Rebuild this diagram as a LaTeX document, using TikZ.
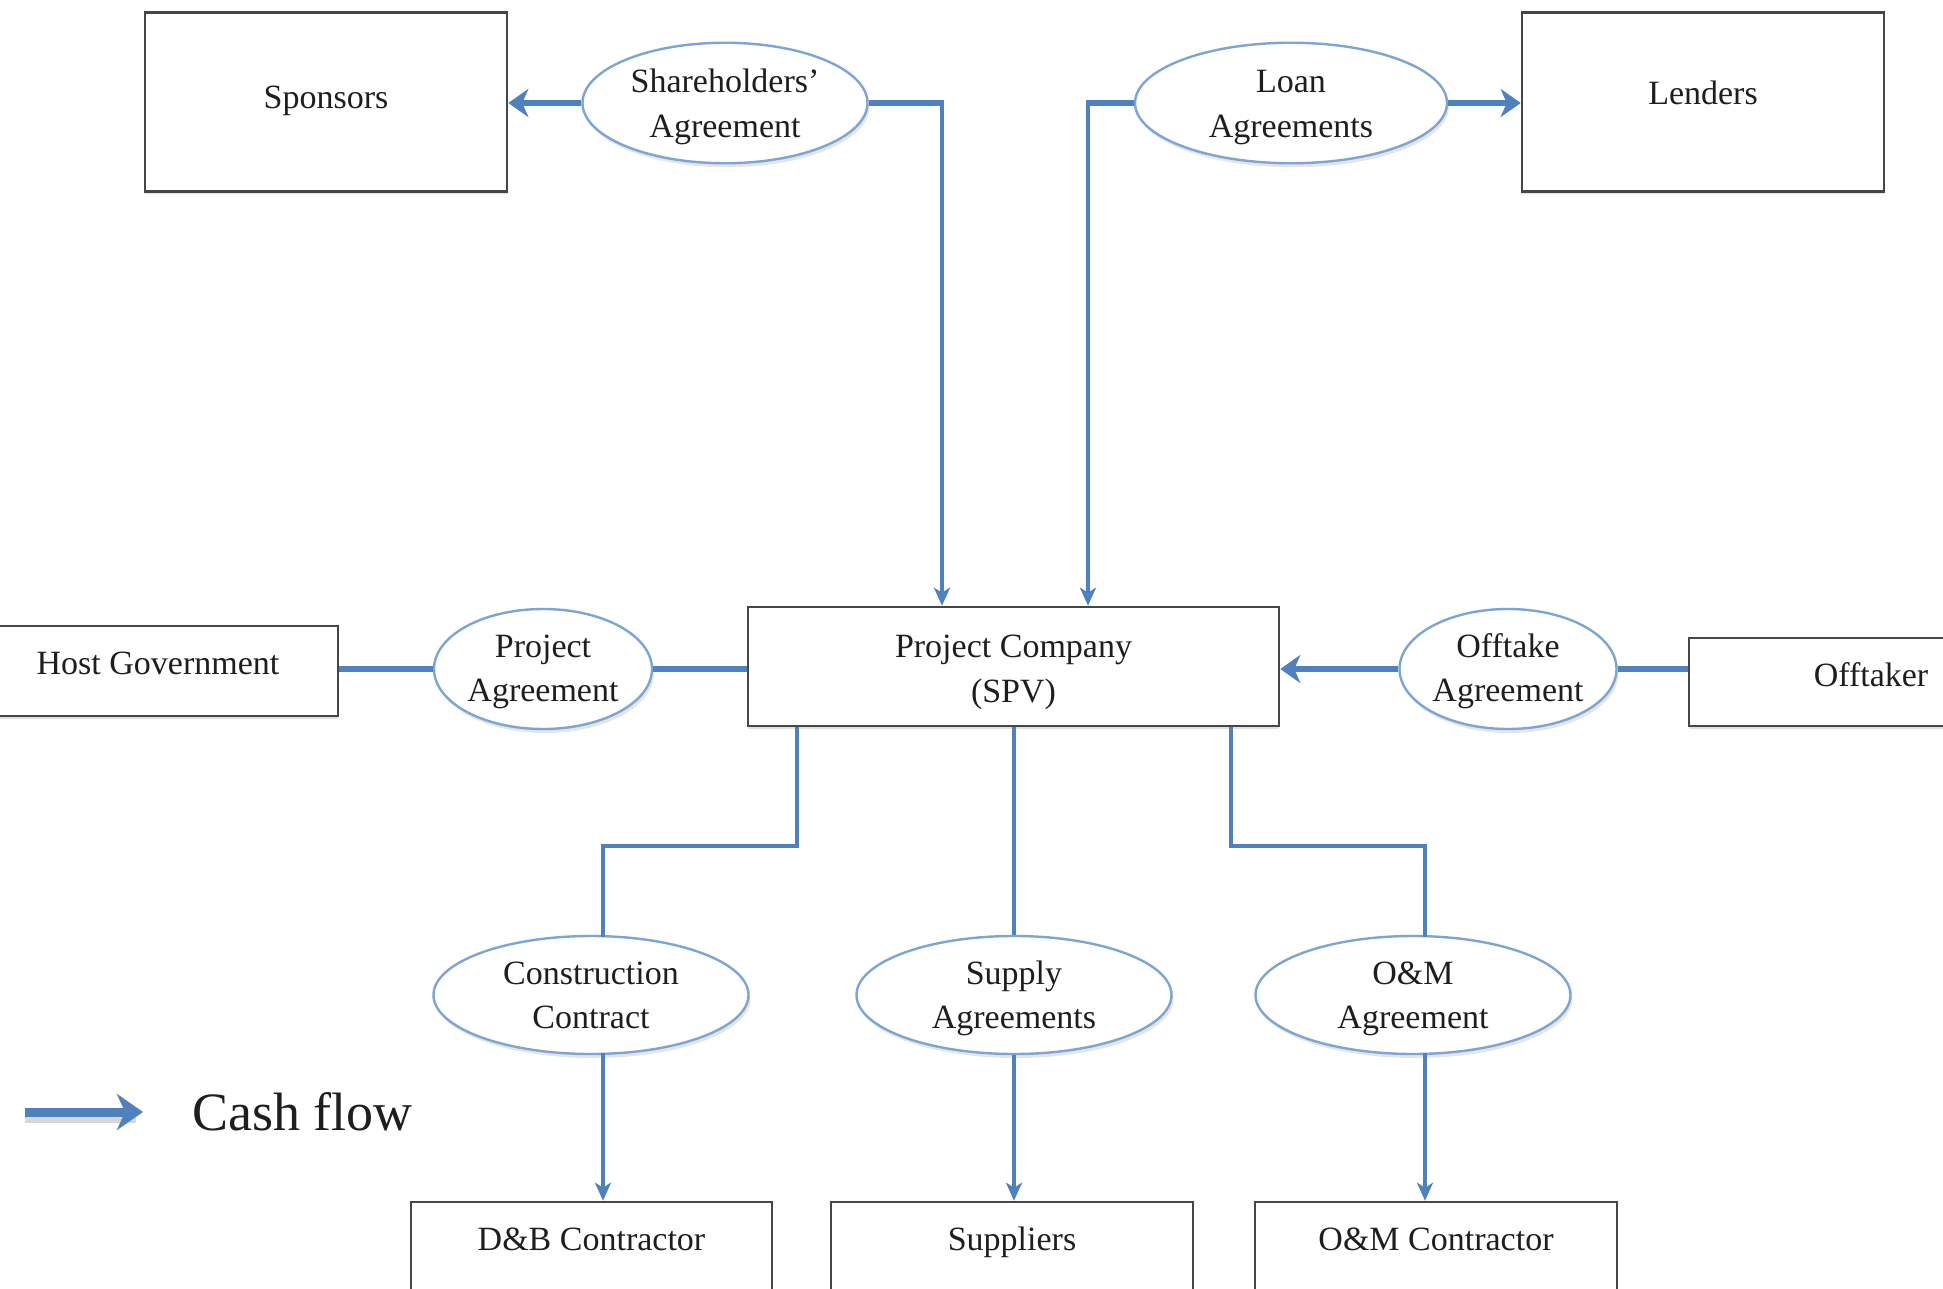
\documentclass[tikz,border=0pt]{standalone}
\usepackage{fontspec}
\setmainfont{Liberation Serif}
\usetikzlibrary{arrows.meta,shapes.geometric,shadows}
\definecolor{flow}{RGB}{79,129,189}
\definecolor{ellb}{RGB}{125,165,212}
\definecolor{boxc}{RGB}{70,70,70}
\definecolor{txt}{RGB}{30,30,30}
\begin{document}
\begin{tikzpicture}[x=0.5pt,y=-0.5pt,
  boxn/.style={draw=boxc, line width=1.3pt, fill=white, inner sep=0pt, text=txt,
    font=\fontsize{17}{22.3}\selectfont, align=center, text height=12pt, text depth=5.5pt,
    drop shadow={opacity=0.25, shadow xshift=0pt, shadow yshift=-1.5pt}},
  agr/.style={ellipse, draw=ellb, line width=1.2pt, fill=white, inner sep=0pt, text=txt,
    font=\fontsize{17}{22.3}\selectfont, align=center, minimum height=59pt,
    text height=38.6pt, text depth=4pt,
    drop shadow={opacity=0.2, shadow xshift=1pt, shadow yshift=-2pt}},
  lbl/.style={inner sep=0pt, text=txt, font=\fontsize{17}{22.3}\selectfont, anchor=base},
  hlink/.style={draw=flow, line width=3pt},
  vlink/.style={draw=flow, line width=2.4pt},
  blink/.style={draw=flow, line width=1.9pt},
  harrow/.style={-{Stealth[length=10pt,width=14pt,inset=3pt]}},
  varrow/.style={-{Stealth[length=9pt,width=8pt,inset=2.5pt]}}
]
\clip (0,0) rectangle (1943,1289);
\fill[white] (0,0) rectangle (1943,1289);

% boxes
\node[boxn, minimum width=181pt, minimum height=89.5pt] (sponsors) at (326,102) {Sponsors};
\node[boxn, minimum width=181pt, minimum height=89.5pt, text depth=9pt] (lenders) at (1703,102) {Lenders};
\node[boxn, minimum width=265.5pt, minimum height=59.5pt, text height=40pt, text depth=4pt] (pc) at (1013.5,666.5) {Project Company\\(SPV)};
\node[boxn, minimum width=180pt, minimum height=45pt, text depth=9pt] (host) at (158,671) {Host Government};
\node[boxn, minimum width=182pt, minimum height=44pt, text depth=8pt] (offtaker) at (1871,682) {Offtaker};
\node[boxn, minimum width=180.5pt, minimum height=89pt] (db) at (591.5,1291) {};
\node[boxn, minimum width=181pt, minimum height=89pt] (sup) at (1012,1291) {};
\node[boxn, minimum width=181pt, minimum height=89pt] (om) at (1436,1291) {};
\node[lbl] (dbt) at (591.5,1250) {D\&B Contractor};
\node[lbl] (supt) at (1012,1250) {Suppliers};
\node[lbl] (omt) at (1436,1250) {O\&M Contractor};

% agreements
\node[agr, minimum width=142.5pt] (sh) at (725,103) {Shareholders'\\Agreement};
\node[agr, minimum width=156pt] (loan) at (1291,103) {Loan\\Agreements};
\node[agr, minimum width=109pt, minimum height=60pt, text height=36.6pt] (pa) at (543,669) {Project\\Agreement};
\node[agr, minimum width=108.5pt, minimum height=60pt, text height=36.6pt] (ot) at (1508,669) {Offtake\\Agreement};
\node[agr, minimum width=157.5pt, text height=37.6pt] (cc) at (591,995) {Construction\\Contract};
\node[agr, minimum width=157.5pt, text height=37.6pt] (sa) at (1014,995) {Supply\\Agreements};
\node[agr, minimum width=157.5pt, text height=37.6pt] (oma) at (1413,995) {O\&M\\Agreement};

% top connectors
\coordinate (shc) at (942,103);
\coordinate (loc) at (1088,103);
\draw[hlink, harrow] (sh.west) -- (sh.west -| sponsors.east);
\draw[hlink] (sh.east) -- ([xshift=1.2pt]shc);
\draw[vlink, varrow] (shc) -- (shc |- pc.north);
\draw[hlink, harrow] (loan.east) -- (loan.east -| lenders.west);
\draw[hlink] (loan.west) -- ([xshift=-1.2pt]loc);
\draw[vlink, varrow] (loc) -- (loc |- pc.north);

% middle connectors
\draw[hlink] (host.east |- pa.west) -- (pa.west);
\draw[hlink] (pa.east) -- (pa.east -| pc.west);
\draw[hlink, harrow] (ot.west) -- (ot.west -| pc.east);
\draw[hlink] (ot.east) -- (ot.east -| offtaker.west);

% lower connectors
\coordinate (l1) at (797,846);
\coordinate (l2) at (603,846);
\coordinate (m1) at (1014,846);
\coordinate (r1) at (1231,846);
\coordinate (r2) at (1425,846);
\draw[blink] (l1 |- pc.south) -- (l1) -- (l2) -- ([yshift=-1pt]l2 |- cc.north);
\draw[blink] (m1 |- pc.south) -- (sa.north);
\draw[blink] (r1 |- pc.south) -- (r1) -- (r2) -- ([yshift=-1pt]r2 |- oma.north);
\draw[blink, varrow] ([yshift=1pt]l2 |- cc.south) -- (l2 |- db.north);
\draw[blink, varrow] (sa.south) -- (sa.south |- sup.north);
\draw[blink, varrow] ([yshift=1pt]r2 |- oma.south) -- (r2 |- om.north);

% legend
\node[inner sep=0pt, anchor=west, text=txt, font=\fontsize{27}{31}\selectfont] (cash) at (192,1112) {Cash flow};
\coordinate (legs) at (25,1112);
\draw[draw=black!25, line width=4.5pt, opacity=0.6] ([yshift=-3pt]legs) -- ([xshift=-28pt,yshift=-3pt]cash.west);
\draw[draw=flow, line width=4.5pt, -{Stealth[length=13pt,width=18pt,inset=4pt]}] (legs) -- ([xshift=-24.5pt]cash.west);
\end{tikzpicture}
\end{document}
